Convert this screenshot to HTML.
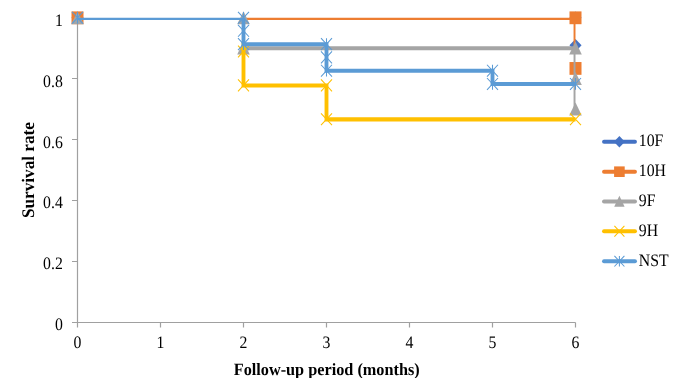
<!DOCTYPE html>
<html><head><meta charset="utf-8"><style>
html,body{margin:0;padding:0;background:#fff;}
body{width:685px;height:378px;overflow:hidden;font-family:"Liberation Serif",serif;}
svg{display:block;}
</style></head><body>
<svg width="685" height="378" viewBox="0 0 685 378" text-rendering="geometricPrecision">
<defs><filter id="nf" x="0" y="0" width="685" height="378" filterUnits="userSpaceOnUse"><feOffset dx="0" dy="0"/></filter></defs>
<g filter="url(#nf)">
<rect width="685" height="378" fill="#fff"/>
<path d="M77.5,17.50L77.5,322.5L575.5,322.5M72,322.50L77.5,322.50M72,261.50L77.5,261.50M72,200.50L77.5,200.50M72,139.50L77.5,139.50M72,78.50L77.5,78.50M72,17.50L77.5,17.50M77.50,322.5L77.50,327.5M160.50,322.5L160.50,327.5M243.50,322.5L243.50,327.5M326.50,322.5L326.50,327.5M409.50,322.5L409.50,327.5M492.50,322.5L492.50,327.5M575.50,322.5L575.50,327.5" stroke="#A0A0A0" stroke-width="1.2" fill="none"/>
<g font-family="Liberation Serif" fill="#000"><text transform="translate(62.80,329.80) scale(0.9,1)" text-anchor="end" font-size="17.5">0</text><text transform="translate(62.80,269.06) scale(0.9,1)" text-anchor="end" font-size="17.5">0.2</text><text transform="translate(62.80,208.32) scale(0.9,1)" text-anchor="end" font-size="17.5">0.4</text><text transform="translate(62.80,147.58) scale(0.9,1)" text-anchor="end" font-size="17.5">0.6</text><text transform="translate(62.80,86.84) scale(0.9,1)" text-anchor="end" font-size="17.5">0.8</text><text transform="translate(62.80,26.10) scale(0.9,1)" text-anchor="end" font-size="17.5">1</text><text transform="translate(77.50,348.00) scale(0.9,1)" text-anchor="middle" font-size="17.5">0</text><text transform="translate(160.50,348.00) scale(0.9,1)" text-anchor="middle" font-size="17.5">1</text><text transform="translate(243.50,348.00) scale(0.9,1)" text-anchor="middle" font-size="17.5">2</text><text transform="translate(326.50,348.00) scale(0.9,1)" text-anchor="middle" font-size="17.5">3</text><text transform="translate(409.50,348.00) scale(0.9,1)" text-anchor="middle" font-size="17.5">4</text><text transform="translate(492.50,348.00) scale(0.9,1)" text-anchor="middle" font-size="17.5">5</text><text transform="translate(575.50,348.00) scale(0.9,1)" text-anchor="middle" font-size="17.5">6</text>
<text transform="translate(326.70,374.60) scale(0.945,1)" text-anchor="middle" font-weight="bold" font-size="17.2">Follow-up period (months)</text>
<text transform="translate(34.4,170.1) scale(1.03,1) rotate(-90)" text-anchor="middle" font-weight="bold" font-size="17.2">Survival rate</text>
</g>
<defs><clipPath id="pc"><rect x="82.01" y="17.80" width="526.98" height="304.70"/></clipPath></defs>
<path d="M77.50,11.50L83.55,17.80L77.50,24.10L71.45,17.80Z" fill="#4472C4"/>
<path d="M575.50,11.50L581.55,17.80L575.50,24.10L569.45,17.80Z" fill="#4472C4"/>
<path d="M575.50,39.03L581.55,45.33L575.50,51.63L569.45,45.33Z" fill="#4472C4"/>
<g transform="scale(0.945,1)"><path d="M257.67,18.00L608.99,18.00M608.99,48.25L608.99,18.00" stroke="#ED7D31" stroke-width="4.1" stroke-linecap="square" fill="none" clip-path="url(#pc)"/></g>
<rect x="71.50" y="11.40" width="12.00" height="12.80" fill="#ED7D31"/>
<rect x="569.50" y="11.40" width="12.00" height="12.80" fill="#ED7D31"/>
<rect x="569.50" y="62.03" width="12.00" height="12.80" fill="#ED7D31"/>
<g transform="scale(0.945,1)"><path d="M257.67,48.25L608.99,48.25M608.99,78.75L608.99,48.25M608.99,109.25L608.99,78.75" stroke="#A5A5A5" stroke-width="4.1" stroke-linecap="square" fill="none" clip-path="url(#pc)"/></g>
<path d="M77.50,11.20L83.80,24.30L71.20,24.30Z" fill="#A5A5A5"/>
<path d="M243.50,11.20L249.80,24.30L237.20,24.30Z" fill="#A5A5A5"/>
<path d="M243.50,41.50L249.80,54.60L237.20,54.60Z" fill="#A5A5A5"/>
<path d="M575.50,41.50L581.80,54.60L569.20,54.60Z" fill="#A5A5A5"/>
<path d="M575.50,72.00L581.80,85.10L569.20,85.10Z" fill="#A5A5A5"/>
<path d="M575.50,102.50L581.80,115.60L569.20,115.60Z" fill="#A5A5A5"/>
<g transform="scale(0.945,1)"><path d="M257.67,51.64L257.67,44.27M257.67,85.53L257.67,51.64M257.67,85.53L345.50,85.53M345.50,119.42L345.50,85.53M345.50,119.42L608.99,119.42" stroke="#FFC000" stroke-width="4.1" stroke-linecap="square" fill="none" clip-path="url(#pc)"/></g>
<path d="M238.00,45.59L249.00,57.39M249.00,45.59L238.00,57.39" stroke="#FFC000" stroke-width="1.05" fill="none"/>
<path d="M238.00,79.48L249.00,91.28M249.00,79.48L238.00,91.28" stroke="#FFC000" stroke-width="1.05" fill="none"/>
<path d="M321.00,79.48L332.00,91.28M332.00,79.48L321.00,91.28" stroke="#FFC000" stroke-width="1.05" fill="none"/>
<path d="M321.00,113.37L332.00,125.17M332.00,113.37L321.00,125.17" stroke="#FFC000" stroke-width="1.05" fill="none"/>
<path d="M570.00,113.37L581.00,125.17M581.00,113.37L570.00,125.17" stroke="#FFC000" stroke-width="1.05" fill="none"/>
<g transform="scale(0.945,1)"><path d="M82.01,18.00L257.67,18.00M257.67,31.01L257.67,18.00M257.67,44.27L257.67,31.01M257.67,44.27L345.50,44.27M345.50,57.53L345.50,44.27M345.50,70.79L345.50,57.53M345.50,70.79L521.16,70.79M521.16,84.05L521.16,70.79M521.16,84.05L608.99,84.05" stroke="#5B9BD5" stroke-width="4.1" stroke-linecap="square" fill="none" clip-path="url(#pc)"/></g>
<path d="M72.00,11.90L83.00,23.70M83.00,11.90L72.00,23.70M77.50,11.90L77.50,23.70" stroke="#5B9BD5" stroke-width="1.05" fill="none"/>
<path d="M238.00,11.90L249.00,23.70M249.00,11.90L238.00,23.70M243.50,11.90L243.50,23.70" stroke="#5B9BD5" stroke-width="1.05" fill="none"/>
<path d="M238.00,24.96L249.00,36.76M249.00,24.96L238.00,36.76M243.50,24.96L243.50,36.76" stroke="#5B9BD5" stroke-width="1.05" fill="none"/>
<path d="M238.00,38.22L249.00,50.02M249.00,38.22L238.00,50.02M243.50,38.22L243.50,50.02" stroke="#5B9BD5" stroke-width="1.05" fill="none"/>
<path d="M321.00,38.22L332.00,50.02M332.00,38.22L321.00,50.02M326.50,38.22L326.50,50.02" stroke="#5B9BD5" stroke-width="1.05" fill="none"/>
<path d="M321.00,51.48L332.00,63.28M332.00,51.48L321.00,63.28M326.50,51.48L326.50,63.28" stroke="#5B9BD5" stroke-width="1.05" fill="none"/>
<path d="M321.00,64.74L332.00,76.54M332.00,64.74L321.00,76.54M326.50,64.74L326.50,76.54" stroke="#5B9BD5" stroke-width="1.05" fill="none"/>
<path d="M487.00,64.74L498.00,76.54M498.00,64.74L487.00,76.54M492.50,64.74L492.50,76.54" stroke="#5B9BD5" stroke-width="1.05" fill="none"/>
<path d="M487.00,78.00L498.00,89.80M498.00,78.00L487.00,89.80M492.50,78.00L492.50,89.80" stroke="#5B9BD5" stroke-width="1.05" fill="none"/>
<path d="M570.00,78.00L581.00,89.80M581.00,78.00L570.00,89.80M575.50,78.00L575.50,89.80" stroke="#5B9BD5" stroke-width="1.05" fill="none"/>
<path d="M604,141.80L635,141.80" stroke="#4472C4" stroke-width="3.9" stroke-linecap="round"/>
<path d="M619.40,136.00L624.90,141.80L619.40,147.60L613.90,141.80Z" fill="#4472C4"/>
<g font-family="Liberation Serif"><text transform="translate(638.80,145.80) scale(0.9,1)" text-anchor="start" font-size="17.5">10F</text></g>
<path d="M604,171.70L635,171.70" stroke="#ED7D31" stroke-width="3.9" stroke-linecap="round"/>
<rect x="614.10" y="166.40" width="10.60" height="10.60" fill="#ED7D31"/>
<g font-family="Liberation Serif"><text transform="translate(638.80,175.85) scale(0.9,1)" text-anchor="start" font-size="17.5">10H</text></g>
<path d="M604,201.50L635,201.50" stroke="#A5A5A5" stroke-width="3.9" stroke-linecap="round"/>
<path d="M619.40,195.70L624.60,206.80L614.20,206.80Z" fill="#A5A5A5"/>
<g font-family="Liberation Serif"><text transform="translate(638.80,205.90) scale(0.9,1)" text-anchor="start" font-size="17.5">9F</text></g>
<path d="M604,231.30L635,231.30" stroke="#FFC000" stroke-width="3.9" stroke-linecap="round"/>
<path d="M614.40,225.90L624.40,236.70M624.40,225.90L614.40,236.70" stroke="#FFC000" stroke-width="1.05" fill="none"/>
<g font-family="Liberation Serif"><text transform="translate(638.80,235.95) scale(0.9,1)" text-anchor="start" font-size="17.5">9H</text></g>
<path d="M604,261.20L635,261.20" stroke="#5B9BD5" stroke-width="3.9" stroke-linecap="round"/>
<path d="M614.40,255.90L624.40,266.50M624.40,255.90L614.40,266.50M619.40,255.90L619.40,266.50" stroke="#5B9BD5" stroke-width="1.05" fill="none"/>
<g font-family="Liberation Serif"><text transform="translate(638.80,266.00) scale(0.9,1)" text-anchor="start" font-size="17.5">NST</text></g>
</g>
</svg>
</body></html>
